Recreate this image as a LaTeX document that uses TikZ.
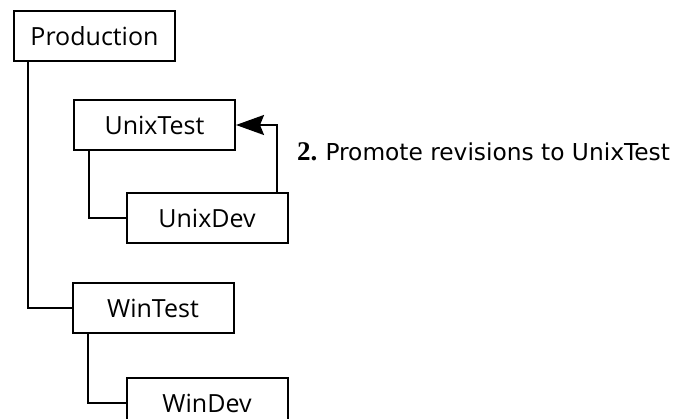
\documentclass[tikz,border=0pt]{standalone}
\usepackage{fontspec}
\setmainfont{Open Sans}
\newfontfamily\labelfont{DejaVu Sans}
\newfontfamily\numfont{Liberation Serif}
\usetikzlibrary{arrows.meta}
\tikzset{
  stream/.style={draw, line width=2pt, minimum width=161pt, minimum height=50pt,
    inner sep=0pt, font=\fontsize{25}{28}\selectfont},
  link/.style={line width=2pt},
}
\begin{document}
\begin{tikzpicture}[x=1pt, y=-1pt]
    \useasboundingbox (0,0) rectangle (680,419);
    \node[stream] (prod) at (94.5,36.5) {Production};
    \node[stream] (unixtest) at (154.5,125) {UnixTest};
    \node[stream] (unixdev) at (207,218.5) {UnixDev};
    \node[stream] (wintest) at (153,308) {WinTest};
    \node[stream] (windev) at (207,403) {WinDev};
    \draw[link] ([xshift=15pt]prod.south west) |- (wintest.west);
    \draw[link] ([xshift=16pt]unixtest.south west) |- (unixdev.west);
    \draw[link] ([xshift=16pt]wintest.south west) |- (windev.west);
    \draw[link,-{Stealth[length=28pt,width=20pt,inset=4pt]}] ([xshift=70pt]unixdev.north) |- (unixtest.east);
    \node[anchor=base west, inner sep=0pt, font=\fontsize{23.3}{27}\selectfont] (promote) at (297,161)
      {{\numfont\fontsize{27}{27}\selectfont\bfseries 2.} {\labelfont Promote revisions to UnixTest}};
\end{tikzpicture}
\end{document}
